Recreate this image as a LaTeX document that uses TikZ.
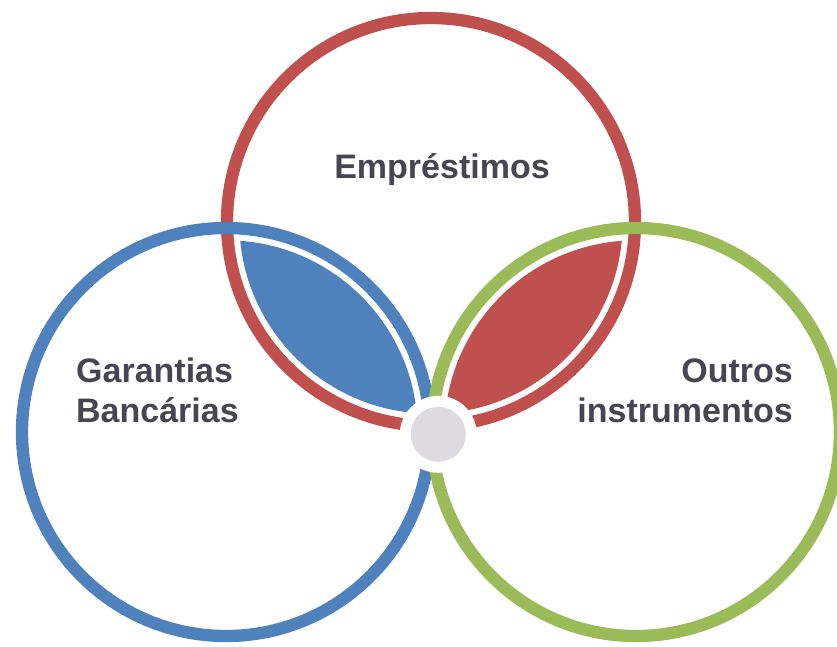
\documentclass[tikz,border=0pt]{standalone}
\usepackage{fontspec}
\setmainfont{Liberation Sans}
\definecolor{cred}{HTML}{C0504D}
\definecolor{cblue}{HTML}{4F81BD}
\definecolor{cgreen}{HTML}{9BBB59}
\definecolor{ctext}{HTML}{464653}
\definecolor{cgray}{HTML}{DDDBE0}
\begin{document}
\begin{tikzpicture}[x=1pt,y=-1pt,
  ring/.style={line width=12.3pt},
  label/.style={inner sep=0pt, text=ctext, font=\fontsize{34}{40.7}\selectfont\bfseries}]
\useasboundingbox (0,0) rectangle (837,646);
\clip (0,0) rectangle (837,646);
\coordinate (R) at (431,222);
\coordinate (B) at (226,432);
\coordinate (G) at (636,432);
\coordinate (H) at (438.3,434.3);
% circles
\draw[ring, cred] (R) circle (204pt);
\draw[ring, cblue] (B) circle (204pt);
\draw[ring, cgreen] (G) circle (204pt);
% lenses
\begin{scope}
  \clip (R) circle (191.7pt);
  \fill[cblue] (B) circle (191.7pt);
\end{scope}
\begin{scope}
  \clip (R) circle (191.7pt);
  \fill[cred] (G) circle (191.7pt);
\end{scope}
% hub
\fill[white] (H) circle (38.5pt);
\node[circle, fill=cgray, minimum size=55pt, inner sep=0pt] (hub) at (H) {};
% labels
\node[label, anchor=base] (emp) at (442,178.3) {Empréstimos};
\node[label, anchor=base west, align=left] (gar) at (76,422.7) {Garantias\\Bancárias};
\node[label, anchor=base east, align=right] (out) at (793,422.7) {Outros\\instrumentos};
\end{tikzpicture}
\end{document}
